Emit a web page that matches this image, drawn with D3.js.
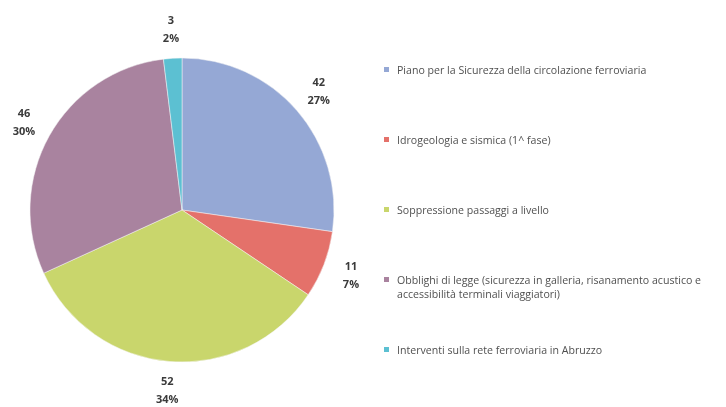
<!DOCTYPE html>
<html>
<head>
<meta charset="utf-8">
<script src="https://cdn.jsdelivr.net/npm/d3@7"></script>
<style>
  html, body { margin: 0; padding: 0; background: #fff; }
  svg { display: block; }
</style>
</head>
<body>
<svg id="chart" width="726" height="407"></svg>
<script>
// Investment programmes (values and shares of total)
const categories = [
  "Piano per la Sicurezza della circolazione ferroviaria",
  "Idrogeologia e sismica (1^ fase)",
  "Soppressione passaggi a livello",
  "Obblighi di legge (sicurezza in galleria, risanamento acustico e accessibilità terminali viaggiatori)",
  "Interventi sulla rete ferroviaria in Abruzzo"
];
const values = [42, 11, 52, 46, 3];
const percentLabels = ["27%", "7%", "34%", "30%", "2%"];
const colors = ["#95a8d5", "#e4716b", "#c9d66c", "#a9839f", "#5cc0d2"];
// legend text wrapped the way it is laid out beside the pie
const legendLines = [
  ["Piano per la Sicurezza della circolazione ferroviaria"],
  ["Idrogeologia e sismica (1^ fase)"],
  ["Soppressione passaggi a livello"],
  ["Obblighi di legge (sicurezza in galleria, risanamento acustico e", "accessibilità terminali viaggiatori)"],
  ["Interventi sulla rete ferroviaria in Abruzzo"]
];

const svg = d3.select("#chart");

const defs = svg.append("defs");
defs.append("filter").attr("id", "soft")
  .append("feGaussianBlur").attr("stdDeviation", 0.55);

const cx = 182, cy = 210, r = 152;

const pie = d3.pie().sort(null).value(d => d)(values);
const arc = d3.arc().innerRadius(0).outerRadius(r);
const labelArc = d3.arc().innerRadius(r + 29).outerRadius(r + 29);

const g = svg.append("g").attr("transform", `translate(${cx},${cy})`)
  .attr("filter", "url(#soft)");

g.selectAll("path.slice")
  .data(pie)
  .join("path")
  .attr("class", "slice")
  .attr("d", arc)
  .attr("fill", (d, i) => colors[i])
  .attr("stroke", "#f4f4f4")
  .attr("stroke-width", 0.5);

// data labels: value over percentage, centred just outside each slice
const lbl = g.selectAll("text.lbl")
  .data(pie)
  .join("text")
  .attr("class", "lbl")
  .attr("transform", d => {
    const [x, y] = labelArc.centroid(d);
    return `translate(${x},${y})`;
  })
  .attr("text-anchor", "middle")
  .attr("font-family", "'Open Sans', 'Liberation Sans', sans-serif")
  .attr("font-weight", "bold")
  .attr("font-size", 11)
  .attr("fill", "#3a3a3a");

lbl.append("tspan").attr("x", 0).attr("y", -5).text(d => d.data);
lbl.append("tspan").attr("x", 0).attr("y", 13).text((d, i) => percentLabels[i]);

// legend
const legendY = [70, 140, 210, 280, 350];
const lg = svg.append("g").attr("filter", "url(#soft)");
const items = lg.selectAll("g.item")
  .data(categories)
  .join("g")
  .attr("class", "item")
  .attr("transform", (d, i) => `translate(384,${legendY[i]})`);

items.append("rect")
  .attr("x", 0).attr("y", -3)
  .attr("width", 5).attr("height", 5)
  .attr("fill", (d, i) => colors[i]);

items.each(function(d, i) {
  const t = d3.select(this).append("text")
    .attr("font-family", "'Open Sans', 'Liberation Sans', sans-serif")
    .attr("font-size", 10.6)
    .attr("fill", "#505050");
  legendLines[i].forEach((line, j) => {
    t.append("tspan")
      .attr("x", 13)
      .attr("y", 4 + j * 14)
      .text(line);
  });
});
</script>
</body>
</html>
